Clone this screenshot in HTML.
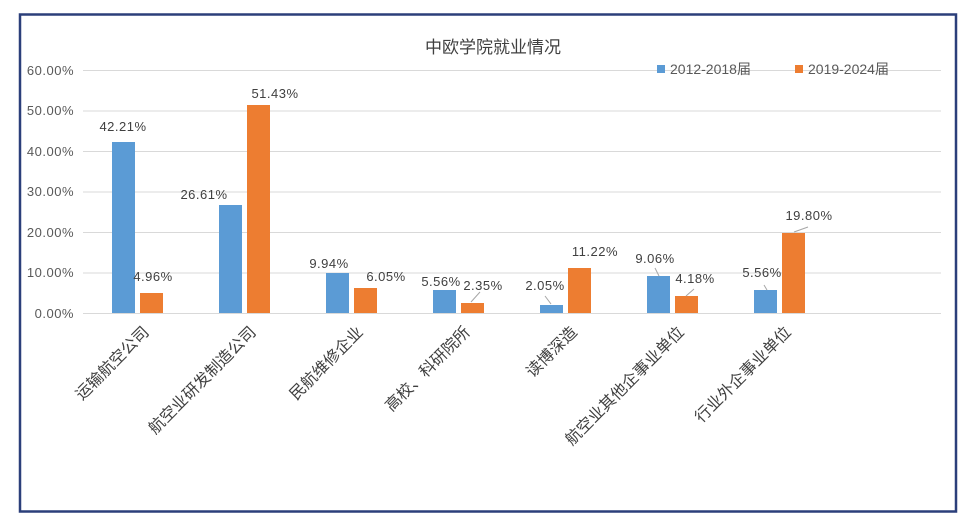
<!DOCTYPE html>
<html><head><meta charset="utf-8"><style>
html,body{margin:0;padding:0;background:#fff;}
svg{display:block;font-family:"Liberation Sans","Noto Sans CJK SC",sans-serif;}
</style></head><body>
<svg width="974" height="527" viewBox="0 0 974 527">
<rect x="20" y="14.5" width="936" height="497" fill="#fff" stroke="#2b3f7a" stroke-width="2.5"/>
<text x="493" y="53" text-anchor="middle" font-size="17" fill="#404040">中欧学院就业情况</text>
<g stroke="#d9d9d9" stroke-width="1">
<line x1="83" x2="941" y1="70.5" y2="70.5"/>
<line x1="83" x2="941" y1="111" y2="111"/>
<line x1="83" x2="941" y1="151.5" y2="151.5"/>
<line x1="83" x2="941" y1="192" y2="192"/>
<line x1="83" x2="941" y1="232.5" y2="232.5"/>
<line x1="83" x2="941" y1="273" y2="273"/>
<line x1="83" x2="941" y1="313.5" y2="313.5"/>
</g>
<g font-size="13" fill="#595959" text-anchor="end" letter-spacing="0.5">
<text x="74" y="75">60.00%</text>
<text x="74" y="115">50.00%</text>
<text x="74" y="156">40.00%</text>
<text x="74" y="196">30.00%</text>
<text x="74" y="237">20.00%</text>
<text x="74" y="277">10.00%</text>
<text x="74" y="318">0.00%</text>
</g>
<rect x="657" y="65" width="8" height="8" fill="#5b9bd5"/>
<text x="670" y="74" font-size="14" fill="#595959">2012-2018届</text>
<rect x="795" y="65" width="8" height="8" fill="#ed7d31"/>
<text x="808" y="74" font-size="14" fill="#595959">2019-2024届</text>
<g fill="#5b9bd5">
<rect x="112" y="142" width="23" height="171"/>
<rect x="219" y="205" width="23" height="108"/>
<rect x="326" y="273" width="23" height="40"/>
<rect x="433" y="290" width="23" height="23"/>
<rect x="540" y="305" width="23" height="8"/>
<rect x="647" y="276" width="23" height="37"/>
<rect x="754" y="290" width="23" height="23"/>
</g>
<g fill="#ed7d31">
<rect x="140" y="293" width="23" height="20"/>
<rect x="247" y="105" width="23" height="208"/>
<rect x="354" y="288" width="23" height="25"/>
<rect x="461" y="303" width="23" height="10"/>
<rect x="568" y="268" width="23" height="45"/>
<rect x="675" y="296" width="23" height="17"/>
<rect x="782" y="233" width="23" height="80"/>
</g>
<g stroke="#a6a6a6" stroke-width="1">
<line x1="471" y1="302" x2="480" y2="292"/>
<line x1="545" y1="296" x2="551" y2="304"/>
<line x1="655" y1="268" x2="659" y2="276"/>
<line x1="686" y1="296" x2="694" y2="289"/>
<line x1="764" y1="285" x2="767" y2="290"/>
<line x1="794" y1="232" x2="808" y2="227"/>
</g>
<g font-size="13" fill="#404040" text-anchor="middle" letter-spacing="0.5">
<text x="123" y="131">42.21%</text>
<text x="153" y="281">4.96%</text>
<text x="204" y="199">26.61%</text>
<text x="275" y="98">51.43%</text>
<text x="329" y="268">9.94%</text>
<text x="386" y="281">6.05%</text>
<text x="441" y="286">5.56%</text>
<text x="483" y="290">2.35%</text>
<text x="545" y="290">2.05%</text>
<text x="595" y="256">11.22%</text>
<text x="655" y="263">9.06%</text>
<text x="695" y="283">4.18%</text>
<text x="762" y="277">5.56%</text>
<text x="809" y="220">19.80%</text>
</g>
<g font-size="16" fill="#404040" text-anchor="end">
<text transform="translate(150,333) rotate(-45)">运输航空公司</text>
<text transform="translate(257,333) rotate(-45)">航空业研发制造公司</text>
<text transform="translate(364,333) rotate(-45)">民航维修企业</text>
<text transform="translate(471,333) rotate(-45)">高校、科研院所</text>
<text transform="translate(578,333) rotate(-45)">读博深造</text>
<text transform="translate(685,333) rotate(-45)">航空业其他企事业单位</text>
<text transform="translate(792,333) rotate(-45)">行业外企事业单位</text>
</g>
</svg>
</body></html>
